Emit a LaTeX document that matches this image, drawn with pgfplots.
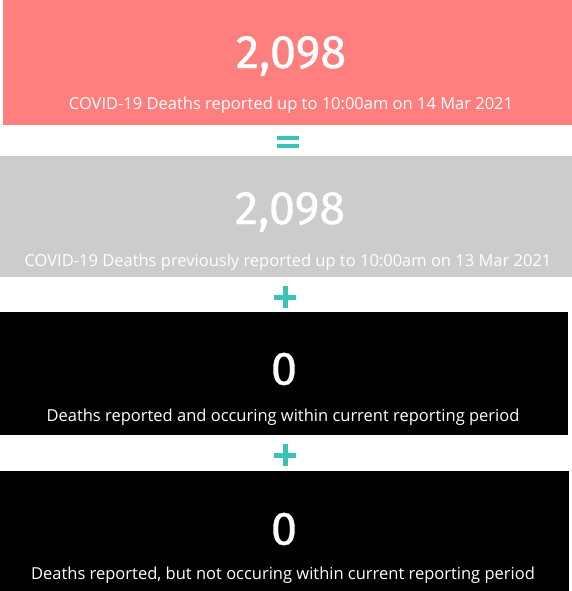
\documentclass[border=0pt]{standalone}
\usepackage{pgfplots}
\pgfplotsset{compat=1.18}
\usepackage{fontspec}
\setmainfont{Open Sans}
\newfontfamily\numfont[FakeBold=0.7]{Fira Sans}

\definecolor{boxpink}{HTML}{FF7F7F}
\definecolor{boxgray}{HTML}{CCCCCC}
\definecolor{optealc}{HTML}{3CC1B5}

\begin{document}
\begin{tikzpicture}
\begin{axis}[
    x=1pt, y=1pt, scale only axis,
    xmin=0, xmax=572, ymin=0, ymax=591,
    y dir=reverse, hide axis, clip=false]
% card backgrounds
\fill[white] (axis cs:0,0) rectangle (axis cs:572,591);
\fill[boxpink] (axis cs:3,0) rectangle (axis cs:572,125);
\fill[boxgray] (axis cs:0,156) rectangle (axis cs:572,277);
\fill[black] (axis cs:0,312) rectangle (axis cs:568,435);
\fill[black] (axis cs:0,471) rectangle (axis cs:569,591);
% operators
\fill[optealc] (axis cs:277,136) rectangle (axis cs:299,140);
\fill[optealc] (axis cs:277,144) rectangle (axis cs:299,148);
\fill[optealc] (axis cs:274,294.5) rectangle (axis cs:296,299.5);
\fill[optealc] (axis cs:282.5,286) rectangle (axis cs:287.5,308);
\fill[optealc] (axis cs:274,452.5) rectangle (axis cs:296,457.5);
\fill[optealc] (axis cs:282.5,444) rectangle (axis cs:287.5,466);
% values
\node[white] at (axis cs:291,56) {\fontsize{47}{47}\selectfont\numfont 2,098};
\node[white] at (axis cs:290,212) {\fontsize{47}{47}\selectfont\numfont 2,098};
\node[white] at (axis cs:284,369) {\fontsize{47}{47}\selectfont\numfont 0};
\node[white] at (axis cs:284,529) {\fontsize{47}{47}\selectfont\numfont 0};
% captions
\node[white] at (axis cs:291,105) {\fontsize{16.5}{16.5}\selectfont COVID-19 Deaths reported up to 10:00am on 14 Mar 2021};
\node[white] at (axis cs:288,262) {\fontsize{16.5}{16.5}\selectfont COVID-19 Deaths previously reported up to 10:00am on 13 Mar 2021};
\node[white] at (axis cs:283,417) {\fontsize{16.5}{16.5}\selectfont Deaths reported and occuring within current reporting period};
\node[white] at (axis cs:283,575) {\fontsize{16.5}{16.5}\selectfont Deaths reported, but not occuring within current reporting period};
\end{axis}
\end{tikzpicture}
\end{document}
